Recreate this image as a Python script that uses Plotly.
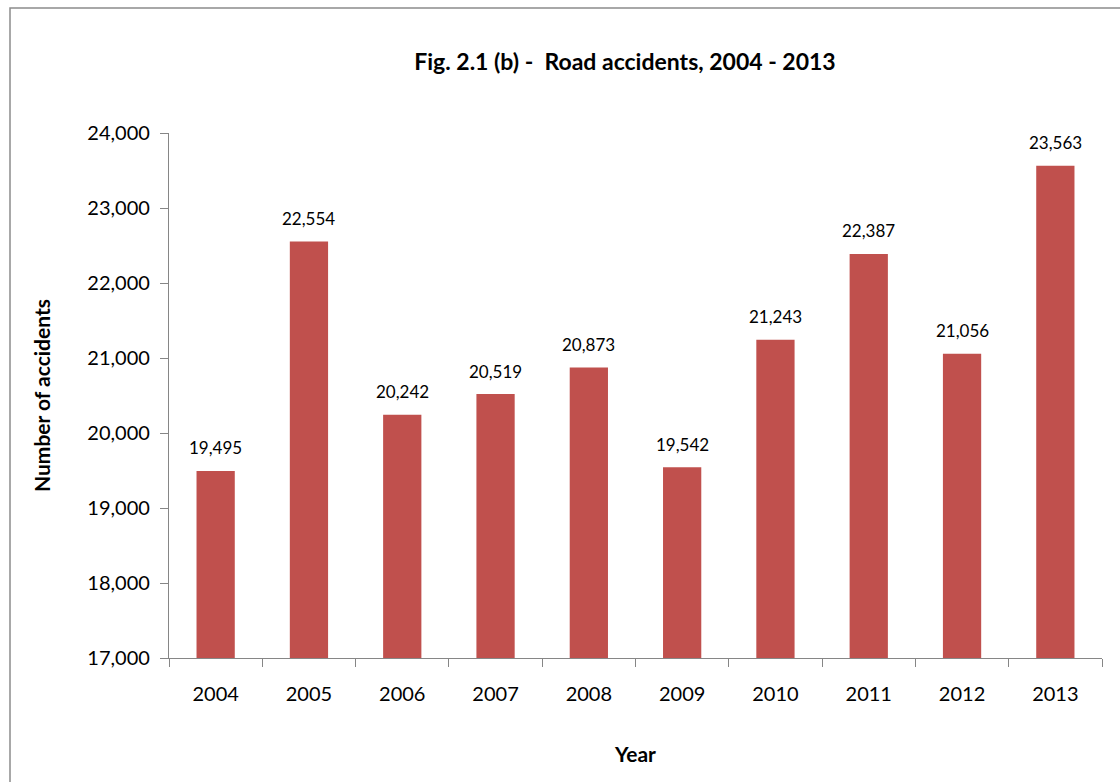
import plotly.graph_objects as go

years = ["2004", "2005", "2006", "2007", "2008", "2009", "2010", "2011", "2012", "2013"]
accidents = [19495, 22554, 20242, 20519, 20873, 19542, 21243, 22387, 21056, 23563]
y_ticks = [17000, 18000, 19000, 20000, 21000, 22000, 23000, 24000]

FONT = "Lato, Calibri, Carlito, sans-serif"
BAR = "#C0504D"
AXIS = "#868686"

fig = go.Figure()
fig.add_trace(go.Bar(
    x=years, y=accidents,
    marker=dict(color=BAR, line=dict(width=0)),
    hoverinfo="x+y",
))

# value labels above each bar (category axis: x given as the category index)
for i, v in enumerate(accidents):
    fig.add_annotation(
        x=i, y=v, text=f"{v:,}", showarrow=False,
        yshift=23, font=dict(family=FONT, size=17, color="#000000"),
    )

L, R, T, B = 169, 18, 133, 124
W, H = 1120, 782
pw, ph = W - L - R, H - T - B

# outer chart frame
fig.add_shape(
    type="rect", xref="paper", yref="paper",
    x0=(10 - L) / pw, x1=(W + 5 - L) / pw,
    y0=-(H + 5 - (H - B)) / ph, y1=1 + (T - 8) / ph,
    line=dict(color="#8c8c8c", width=1.5), layer="below",
)

fig.update_layout(
    width=W, height=H,
    margin=dict(l=L, r=R, t=T, b=B),
    paper_bgcolor="white", plot_bgcolor="white",
    bargap=0.59,
    showlegend=False,
    title=dict(
        text="<b>Fig. 2.1 (b) -  Road accidents, 2004 - 2013</b>",
        x=(625) / W, xanchor="center", y=1 - 62 / H, yanchor="middle",
        font=dict(family=FONT, size=23, color="#000000"),
    ),
    font=dict(family=FONT, color="#000000"),
)

fig.update_xaxes(
    type="category", range=[-0.5, 9.5],
    showline=True, linecolor=AXIS, linewidth=1.3,
    ticks="outside", ticklen=8, tickcolor=AXIS, tickwidth=1.3,
    tickson="boundaries", tickangle=0,
    ticklabelstandoff=18,
    tickfont=dict(family=FONT, size=20, color="#000000"),
    showgrid=False, zeroline=False,
    title=dict(text="<b>Year</b>", font=dict(family=FONT, size=21, color="#000000"), standoff=43),
)

fig.update_yaxes(
    range=[17000, 24000],
    tickvals=y_ticks, ticktext=[f"{t:,}" for t in y_ticks],
    showline=True, linecolor=AXIS, linewidth=1.3,
    ticks="outside", ticklen=8, tickcolor=AXIS, tickwidth=1.3,
    ticklabelstandoff=6,
    tickfont=dict(family=FONT, size=20, color="#000000"),
    showgrid=False, zeroline=False,
    title=dict(text="<b>Number of accidents</b>", font=dict(family=FONT, size=21, color="#000000"), standoff=30),
)

fig.write_html("out.html")
